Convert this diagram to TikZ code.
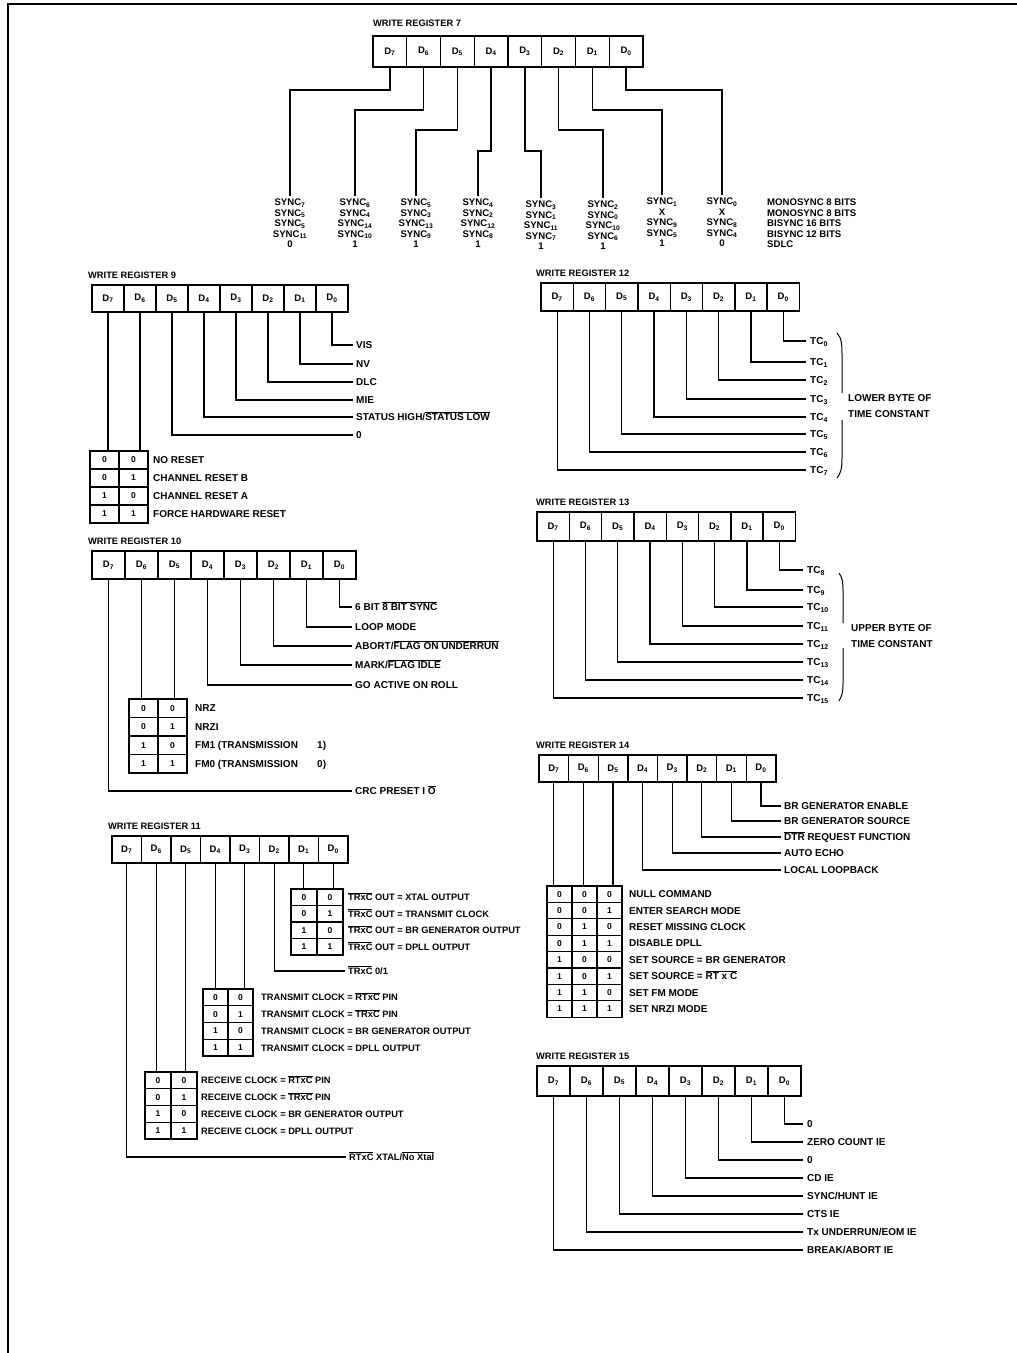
\documentclass[tikz,border=0pt]{standalone}
\usepackage{fontspec}
\setmainfont{Liberation Sans}
\newcommand\ovl[1]{$\overline{\hbox{#1}}$}
\newcommand\regbox[5]{%
  \foreach \i in {7,6,...,0}{%
    \pgfmathsetmacro\xx{#2+(7-\i)*#4+#4/2}%
    \pgfmathsetmacro\yy{#3+#5/2}%
    \node[cell, minimum width=#4pt, minimum height=#5pt] (#1d\i) at (\xx,\yy) {D\textsubscript{\i}};%
  }%
}
\begin{document}
\begin{tikzpicture}[x=1pt,y=-1pt,
  ln/.style={line width=1.3pt},
  cell/.style={draw, line width=1.4pt, inner sep=0pt, font=\fontsize{9.5}{10}\selectfont\bfseries},
  tcell/.style={draw, line width=1.3pt, inner sep=0pt, font=\fontsize{8.5}{10}\selectfont\bfseries},
  lab/.style={anchor=west, inner sep=0pt, text height=7pt, text depth=0pt, font=\fontsize{10}{12}\selectfont\bfseries},
  labs/.style={lab, font=\fontsize{9.3}{11}\selectfont\bfseries},
  ttl/.style={anchor=west, inner sep=0pt, font=\fontsize{9.3}{11}\selectfont\bfseries},
  syn/.style={anchor=north, align=center, inner sep=0pt, font=\fontsize{9.6}{10.5}\selectfont\bfseries},
  brc/.style={line width=1pt}
]
\fill[white] (0,0) rectangle (1017,1353);
\useasboundingbox (0,0) rectangle (1017,1353);
\draw[line width=1.2pt] (8,1353) -- (8,4) -- (1017,4);

% ================= WRITE REGISTER 7
\node[ttl] (t7) at (373,23) {WRITE REGISTER 7};
\regbox{r7}{373}{36}{33.75}{31}
\node[syn] (s7a) at (290,199) {SYNC\textsubscript{7}\\SYNC\textsubscript{5}\\SYNC\textsubscript{5}\\SYNC\textsubscript{11}\\0};
\node[syn] (s7b) at (355,199) {SYNC\textsubscript{6}\\SYNC\textsubscript{4}\\SYNC\textsubscript{14}\\SYNC\textsubscript{10}\\1};
\node[syn] (s7c) at (416,199) {SYNC\textsubscript{5}\\SYNC\textsubscript{3}\\SYNC\textsubscript{13}\\SYNC\textsubscript{9}\\1};
\node[syn] (s7d) at (478,199) {SYNC\textsubscript{4}\\SYNC\textsubscript{2}\\SYNC\textsubscript{12}\\SYNC\textsubscript{8}\\1};
\node[syn] (s7e) at (541,201) {SYNC\textsubscript{3}\\SYNC\textsubscript{1}\\SYNC\textsubscript{11}\\SYNC\textsubscript{7}\\1};
\node[syn] (s7f) at (603,201) {SYNC\textsubscript{2}\\SYNC\textsubscript{0}\\SYNC\textsubscript{10}\\SYNC\textsubscript{6}\\1};
\node[syn] (s7g) at (662,198) {SYNC\textsubscript{1}\\X\\SYNC\textsubscript{9}\\SYNC\textsubscript{5}\\1};
\node[syn] (s7h) at (722,198) {SYNC\textsubscript{0}\\X\\SYNC\textsubscript{8}\\SYNC\textsubscript{4}\\0};
\node[syn, anchor=north west, align=left] (s7m) at (767,199) {MONOSYNC 8 BITS\\MONOSYNC 8 BITS\\BISYNC 16 BITS\\BISYNC 12 BITS\\SDLC};
\draw[ln, shorten >=3pt] (r7d7.south) -- (r7d7.south |- 0,90) -| (s7a.north);
\draw[ln, shorten >=3pt] (r7d6.south) -- (r7d6.south |- 0,110) -| (s7b.north);
\draw[ln, shorten >=3pt] (r7d5.south) -- (r7d5.south |- 0,130) -| (s7c.north);
\draw[ln, shorten >=3pt] (r7d4.south) -- (r7d4.south |- 0,151) -| (s7d.north);
\draw[ln, shorten >=3pt] (r7d3.south) -- (r7d3.south |- 0,151) -| (s7e.north);
\draw[ln, shorten >=3pt] (r7d2.south) -- (r7d2.south |- 0,130) -| (s7f.north);
\draw[ln, shorten >=3pt] (r7d1.south) -- (r7d1.south |- 0,110) -| (s7g.north);
\draw[ln, shorten >=3pt] (r7d0.south) -- (r7d0.south |- 0,90) -| (s7h.north);

% ================= WRITE REGISTER 9
\node[ttl] (t9) at (88,275) {WRITE REGISTER 9};
\regbox{r9}{92}{285}{32}{27}
\node[lab] (l9a) at (356,345) {VIS};
\node[lab] (l9b) at (356,364) {NV};
\node[lab] (l9c) at (356,382) {DLC};
\node[lab] (l9d) at (356,400) {MIE};
\node[lab] (l9e) at (356,417) {STATUS HIGH/\ovl{STATUS LOW}};
\node[lab] (l9f) at (356,435) {0};
\draw[ln, shorten >=3pt] (r9d0.south) |- (l9a.west);
\draw[ln, shorten >=3pt] (r9d1.south) |- (l9b.west);
\draw[ln, shorten >=3pt] (r9d2.south) |- (l9c.west);
\draw[ln, shorten >=3pt] (r9d3.south) |- (l9d.west);
\draw[ln, shorten >=3pt] (r9d4.south) |- (l9e.west);
\draw[ln, shorten >=3pt] (r9d5.south) |- (l9f.west);
\foreach \pa/\pb/\txt [count=\n] in {0/0/{NO RESET},0/1/{CHANNEL RESET B},1/0/{CHANNEL RESET A},1/1/{FORCE HARDWARE RESET}}{
  \pgfmathsetmacro\yy{451+(\n-1)*18+9}
  \node[tcell,minimum width=29pt,minimum height=18pt] (t9r\n-1) at (104.5,\yy) {\pa};
  \node[tcell,minimum width=29pt,minimum height=18pt] (t9r\n-2) at (133.5,\yy) {\pb};
  \node[lab] (t9l\n) at (153,\yy) {\txt};
}
\draw[ln] (r9d7.south) -- (r9d7.south |- t9r1-1.north);
\draw[ln] (r9d6.south) -- (r9d6.south |- t9r1-2.north);

% ================= WRITE REGISTER 10
\node[ttl] (t10) at (88,541) {WRITE REGISTER 10};
\regbox{r10}{92}{551}{33}{28}
\node[lab] (l10a) at (355,607) {6 BIT \ovl{8 BIT SYNC}};
\node[lab] (l10b) at (355,627) {LOOP MODE};
\node[lab] (l10c) at (355,646) {ABORT/\ovl{FLAG ON UNDERRUN}};
\node[lab] (l10d) at (355,665) {MARK/\ovl{FLAG IDLE}};
\node[lab] (l10e) at (355,685) {GO ACTIVE ON ROLL};
\node[lab] (l10f) at (355,791) {CRC PRESET I \ovl{O}};
\draw[ln, shorten >=3pt] (r10d0.south) |- (l10a.west);
\draw[ln, shorten >=3pt] (r10d1.south) |- (l10b.west);
\draw[ln, shorten >=3pt] (r10d2.south) |- (l10c.west);
\draw[ln, shorten >=3pt] (r10d3.south) |- (l10d.west);
\draw[ln, shorten >=3pt] (r10d4.south) |- (l10e.west);
\draw[ln, shorten >=3pt] (r10d7.south) |- (l10f.west);
\foreach \pa/\pb/\txt [count=\n] in {0/0/{NRZ},0/1/{NRZI},1/0/{\makebox[122pt][l]{FM1 (TRANSMISSION}1)},1/1/{\makebox[122pt][l]{FM0 (TRANSMISSION}0)}}{
  \pgfmathsetmacro\yy{699+(\n-1)*18.5+9.25}
  \node[tcell,minimum width=29pt,minimum height=18.5pt] (t10r\n-1) at (143.5,\yy) {\pa};
  \node[tcell,minimum width=29pt,minimum height=18.5pt] (t10r\n-2) at (172.5,\yy) {\pb};
  \node[lab] (t10l\n) at (195,\yy) {\txt};
}
\draw[ln] (r10d6.south) -- (r10d6.south |- t10r1-1.north);
\draw[ln] (r10d5.south) -- (r10d5.south |- t10r1-2.north);

% ================= WRITE REGISTER 11
\node[ttl] (t11) at (108,826) {WRITE REGISTER 11};
\regbox{r11}{112}{836}{29.5}{27}
\foreach \pa/\pb/\txt [count=\n] in {0/0/{\ovl{TRxC} OUT = XTAL OUTPUT},0/1/{\ovl{TRxC} OUT = TRANSMIT CLOCK},1/0/{\ovl{TRxC} OUT = BR GENERATOR OUTPUT},1/1/{\ovl{TRxC} OUT = DPLL OUTPUT}}{
  \pgfmathsetmacro\yy{889+(\n-1)*16.5+8.25}
  \node[tcell,minimum width=26pt,minimum height=16.5pt] (t11ar\n-1) at (304,\yy) {\pa};
  \node[tcell,minimum width=26pt,minimum height=16.5pt] (t11ar\n-2) at (330,\yy) {\pb};
  \node[labs] (t11al\n) at (348,\yy) {\txt};
}
\draw[ln] (r11d1.south) -- (r11d1.south |- t11ar1-1.north);
\draw[ln] (r11d0.south) -- (r11d0.south |- t11ar1-2.north);
\node[labs] (l11e) at (348,971) {\ovl{TRxC} 0/1};
\draw[ln, shorten >=3pt] (r11d2.south) |- (l11e.west);
\foreach \pa/\pb/\txt [count=\n] in {0/0/{TRANSMIT CLOCK = \ovl{RTxC} PIN},0/1/{TRANSMIT CLOCK = \ovl{TRxC} PIN},1/0/{TRANSMIT CLOCK = BR GENERATOR OUTPUT},1/1/{TRANSMIT CLOCK = DPLL OUTPUT}}{
  \pgfmathsetmacro\yy{989+(\n-1)*16.75+8.375}
  \node[tcell,minimum width=25pt,minimum height=16.75pt] (t11br\n-1) at (215.5,\yy) {\pa};
  \node[tcell,minimum width=25pt,minimum height=16.75pt] (t11br\n-2) at (240.5,\yy) {\pb};
  \node[labs] (t11bl\n) at (261,\yy) {\txt};
}
\draw[ln] (r11d4.south) -- (r11d4.south |- t11br1-1.north);
\draw[ln] (r11d3.south) -- (r11d3.south |- t11br1-2.north);
\foreach \pa/\pb/\txt [count=\n] in {0/0/{RECEIVE CLOCK = \ovl{RTxC} PIN},0/1/{RECEIVE CLOCK = \ovl{TRxC} PIN},1/0/{RECEIVE CLOCK = BR GENERATOR OUTPUT},1/1/{RECEIVE CLOCK = DPLL OUTPUT}}{
  \pgfmathsetmacro\yy{1072+(\n-1)*16.75+8.375}
  \node[tcell,minimum width=26pt,minimum height=16.75pt] (t11cr\n-1) at (158,\yy) {\pa};
  \node[tcell,minimum width=26pt,minimum height=16.75pt] (t11cr\n-2) at (184,\yy) {\pb};
  \node[labs] (t11cl\n) at (201,\yy) {\txt};
}
\draw[ln] (r11d6.south) -- (r11d6.south |- t11cr1-1.north);
\draw[ln] (r11d5.south) -- (r11d5.south |- t11cr1-2.north);
\node[labs] (l11f) at (349,1157) {\ovl{RTxC} XTAL/\ovl{No Xtal}};
\draw[ln, shorten >=3pt] (r11d7.south) |- (l11f.west);

% ================= WRITE REGISTER 12
\node[ttl] (t12) at (536,273) {WRITE REGISTER 12};
\regbox{r12}{541}{283}{32.3}{28}
\foreach \i/\yy in {0/341,1/362,2/380,3/399,4/417,5/434,6/452,7/470}{
  \node[lab] (l12\i) at (810,\yy) {TC\textsubscript{\i}};
  \draw[ln, shorten >=4pt] (r12d\i.south) |- (l12\i.west);
}
\draw[brc] (837,333) .. controls (842,338) and (842,346) .. (842,356) -- (842,393);
\draw[brc] (842,420) -- (842,458) .. controls (842,468) and (841,473) .. (837,478);
\node[lab] (b12a) at (848,398) {LOWER BYTE OF};
\node[lab] (b12b) at (848,414) {TIME CONSTANT};

% ================= WRITE REGISTER 13
\node[ttl] (t13) at (536,502) {WRITE REGISTER 13};
\regbox{r13}{537}{512}{32.3}{29}
\foreach \i/\k/\yy in {0/8/570,1/9/590,2/10/607,3/11/626,4/12/644,5/13/662,6/14/680,7/15/698}{
  \node[lab] (l13\i) at (807,\yy) {TC\textsubscript{\k}};
  \draw[ln, shorten >=4pt] (r13d\i.south) |- (l13\i.west);
}
\draw[brc] (839,573) .. controls (843,578) and (843,584) .. (843,592) -- (843,623);
\draw[brc] (843,648) -- (843,684) .. controls (843,692) and (842,696) .. (839,701);
\node[lab] (b13a) at (851,628) {UPPER BYTE OF};
\node[lab] (b13b) at (851,644) {TIME CONSTANT};

% ================= WRITE REGISTER 14
\node[ttl] (t14) at (536,745) {WRITE REGISTER 14};
\regbox{r14}{539}{755}{29.6}{27}
\node[lab] (l14a) at (784,806) {BR GENERATOR ENABLE};
\node[lab] (l14b) at (784,821) {BR GENERATOR SOURCE};
\node[lab] (l14c) at (784,837) {\ovl{DTR} REQUEST FUNCTION};
\node[lab] (l14d) at (784,853) {AUTO ECHO};
\node[lab] (l14e) at (784,870) {LOCAL LOOPBACK};
\draw[ln, shorten >=3pt] (r14d0.south) |- (l14a.west);
\draw[ln, shorten >=3pt] (r14d1.south) |- (l14b.west);
\draw[ln, shorten >=3pt] (r14d2.south) |- (l14c.west);
\draw[ln, shorten >=3pt] (r14d3.south) |- (l14d.west);
\draw[ln, shorten >=3pt] (r14d4.south) |- (l14e.west);
\foreach \pa/\pb/\pc/\txt [count=\n] in {0/0/0/{NULL COMMAND},0/0/1/{ENTER SEARCH MODE},0/1/0/{RESET MISSING CLOCK},0/1/1/{DISABLE DPLL},1/0/0/{SET SOURCE = BR GENERATOR},1/0/1/{SET SOURCE = \ovl{RT x C}},1/1/0/{SET FM MODE},1/1/1/{SET NRZI MODE}}{
  \pgfmathsetmacro\yy{886+(\n-1)*16.4+8.2}
  \node[tcell,minimum width=25pt,minimum height=16.4pt] (t14r\n-1) at (559.5,\yy) {\pa};
  \node[tcell,minimum width=25pt,minimum height=16.4pt] (t14r\n-2) at (584.5,\yy) {\pb};
  \node[tcell,minimum width=25pt,minimum height=16.4pt] (t14r\n-3) at (609.5,\yy) {\pc};
  \node[lab] (t14l\n) at (629,\yy) {\txt};
}
\draw[ln] (r14d7.south) -- (r14d7.south |- t14r1-1.north);
\draw[ln] (r14d6.south) -- (r14d6.south |- t14r1-2.north);
\draw[ln] (r14d5.south) -- (r14d5.south |- t14r1-3.north);

% ================= WRITE REGISTER 15
\node[ttl] (t15) at (536,1056) {WRITE REGISTER 15};
\regbox{r15}{537}{1066}{33}{30}
\node[lab] (l15a) at (807,1124) {0};
\node[lab] (l15b) at (807,1142) {ZERO COUNT IE};
\node[lab] (l15c) at (807,1160) {0};
\node[lab] (l15d) at (807,1178) {CD IE};
\node[lab] (l15e) at (807,1196) {SYNC/HUNT IE};
\node[lab] (l15f) at (807,1214) {CTS IE};
\node[lab] (l15g) at (807,1232) {Tx UNDERRUN/EOM IE};
\node[lab] (l15h) at (807,1250) {BREAK/ABORT IE};
\draw[ln, shorten >=4pt] (r15d0.south) |- (l15a.west);
\draw[ln, shorten >=4pt] (r15d1.south) |- (l15b.west);
\draw[ln, shorten >=4pt] (r15d2.south) |- (l15c.west);
\draw[ln, shorten >=4pt] (r15d3.south) |- (l15d.west);
\draw[ln, shorten >=4pt] (r15d4.south) |- (l15e.west);
\draw[ln, shorten >=4pt] (r15d5.south) |- (l15f.west);
\draw[ln, shorten >=4pt] (r15d6.south) |- (l15g.west);
\draw[ln, shorten >=4pt] (r15d7.south) |- (l15h.west);
\end{tikzpicture}
\end{document}
